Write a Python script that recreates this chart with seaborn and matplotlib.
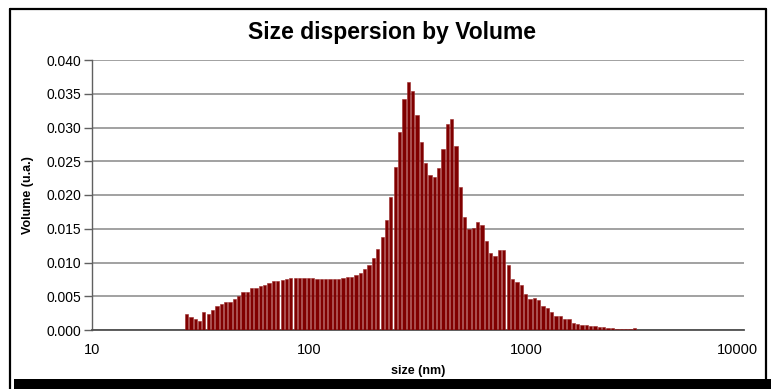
import matplotlib
matplotlib.use("Agg")
import matplotlib.pyplot as plt
import matplotlib.ticker as mticker
import matplotlib.transforms as mtransforms
from matplotlib.patches import Rectangle
from matplotlib.lines import Line2D
import seaborn as sns
import pandas as pd

# Particle size bin centres (nm), log-spaced at 50 bins per decade
sizes = [
    27.2, 28.5, 29.9, 31.3, 32.7, 34.3, 35.9, 37.6, 39.4, 41.2,
    43.2, 45.2, 47.3, 49.5, 51.9, 54.3, 56.9, 59.6, 62.4, 65.3,
    68.4, 71.6, 75.0, 78.5, 82.2, 86.1, 90.2, 94.4, 98.9, 103.5,
    108.4, 113.5, 118.9, 124.5, 130.3, 136.5, 142.9, 149.6, 156.7, 164.1,
    171.8, 179.9, 188.4, 197.2, 206.5, 216.3, 226.5, 237.1, 248.3, 260.0,
    272.3, 285.1, 298.5, 312.6, 327.3, 342.8, 358.9, 375.8, 393.6, 412.1,
    431.5, 451.9, 473.2, 495.5, 518.8, 543.3, 568.9, 595.7, 623.7, 653.1,
    683.9, 716.1, 749.9, 785.2, 822.2, 861.0, 901.6, 944.1, 988.6, 1035,
    1084, 1135, 1189, 1245, 1303, 1365, 1429, 1496, 1567, 1641,
    1718, 1799, 1884, 1972, 2065, 2163, 2265, 2371, 2483, 2600,
    2723, 2851, 2985, 3126,
]

# Volume fraction per bin (u.a.)
volume = [
    0.0023, 0.0020, 0.0017, 0.0014, 0.0026, 0.0023, 0.0030, 0.0035, 0.0039, 0.0041,
    0.0042, 0.0046, 0.0050, 0.0056, 0.0056, 0.0062, 0.0062, 0.0065, 0.0067, 0.0070,
    0.0073, 0.0073, 0.0074, 0.0076, 0.0077, 0.0077, 0.0077, 0.0077, 0.0077, 0.0077,
    0.0076, 0.0076, 0.0076, 0.0076, 0.0076, 0.0076, 0.0077, 0.0078, 0.0079, 0.0082,
    0.0085, 0.0090, 0.0097, 0.0106, 0.0120, 0.0138, 0.0163, 0.0197, 0.0242, 0.0294,
    0.0342, 0.0367, 0.0354, 0.0318, 0.0278, 0.0247, 0.0230, 0.0226, 0.0240, 0.0268,
    0.0305, 0.0313, 0.0273, 0.0212, 0.0168, 0.0150, 0.0151, 0.0160, 0.0156, 0.0132,
    0.0114, 0.0109, 0.0118, 0.0118, 0.0097, 0.0076, 0.0071, 0.0067, 0.0054, 0.0046,
    0.0047, 0.0044, 0.0035, 0.0032, 0.0026, 0.0021, 0.0021, 0.0017, 0.0016, 0.0011,
    0.0009, 0.0008, 0.0007, 0.0006, 0.0006, 0.0004, 0.0004, 0.0003, 0.0003, 0.0001,
    0.00015, 0.00015, 0.00015, 0.00025,
]

x_ticks = [10, 100, 1000, 10000]
x_tick_labels = ["10", "100", "1000", "10000"]
y_ticks = [0.000, 0.005, 0.010, 0.015, 0.020, 0.025, 0.030, 0.035, 0.040]

df = pd.DataFrame({"size": sizes, "volume": volume})

sns.set_theme(style="white")
plt.rcParams["font.family"] = ["Liberation Sans", "DejaVu Sans"]
plt.rcParams["text.color"] = "black"

W, H = 771, 389
fig = plt.figure(figsize=(W / 100, H / 100), dpi=100)
ax = fig.add_axes([92 / W, 1 - 330 / H, (744 - 92) / W, (330 - 60) / H])

sns.barplot(
    data=df, x="size", y="volume", ax=ax,
    native_scale=True, log_scale=(True, False),
    color="#800000", saturation=1, errorbar=None,
    width=0.8, edgecolor="#9a2a2a", linewidth=0.4, zorder=3,
)

ax.set_xlim(10, 10000)
ax.set_ylim(0, 0.040)
ax.xaxis.set_major_locator(mticker.FixedLocator(x_ticks))
ax.xaxis.set_major_formatter(mticker.FixedFormatter(x_tick_labels))
ax.xaxis.set_minor_locator(mticker.NullLocator())
ax.set_yticks(y_ticks)
ax.yaxis.set_major_formatter(mticker.FormatStrFormatter("%.3f"))

ax.grid(axis="y", color="#9a9a9a", linewidth=1.3, zorder=0)
ax.grid(axis="x", visible=False)
ax.set_axisbelow(True)

for side in ("top", "right"):
    ax.spines[side].set_visible(False)
ax.spines["left"].set_color("#606060")
ax.spines["left"].set_linewidth(1.0)
ax.spines["bottom"].set_color("#505050")
ax.spines["bottom"].set_linewidth(1.3)

ax.tick_params(axis="y", which="major", length=6, width=1.0, color="#606060",
               labelsize=10, pad=2, left=True, labelcolor="black")
ax.tick_params(axis="x", which="major", length=0, labelsize=10.5, pad=9,
               labelcolor="black")

# Keep the last decade label inside the frame
fig.canvas.draw()
last = ax.get_xticklabels()[-1]
last.set_transform(last.get_transform() +
                   mtransforms.ScaledTranslation(-7 / 100, 0, fig.dpi_scale_trans))

ax.set_xlabel("size (nm)", fontsize=9, fontweight="bold", labelpad=6, color="black")
ax.set_ylabel("Volume (u.a.)", fontsize=9, fontweight="bold", labelpad=9, color="black")
fig.text(392 / W, 1 - 33 / H, "Size dispersion by Volume", ha="center",
         va="center", fontsize=16.5, fontweight="bold", color="black")

# Outer frame and heavy bottom rule
fig.add_artist(Line2D([10 / W, 10 / W], [0, 1 - 9 / H], transform=fig.transFigure,
                      color="black", linewidth=1.6))
fig.add_artist(Line2D([10 / W, 766 / W], [1 - 9 / H, 1 - 9 / H],
                      transform=fig.transFigure, color="black", linewidth=1.6))
fig.add_artist(Line2D([766 / W, 766 / W], [1 - 9 / H, 1 - 379 / H],
                      transform=fig.transFigure, color="black", linewidth=1.6))
fig.add_artist(Rectangle((14 / W, 0), 1 - 14 / W, 10 / H, transform=fig.transFigure,
                         facecolor="black", edgecolor="none"))

fig.savefig("out.png", dpi=100)
